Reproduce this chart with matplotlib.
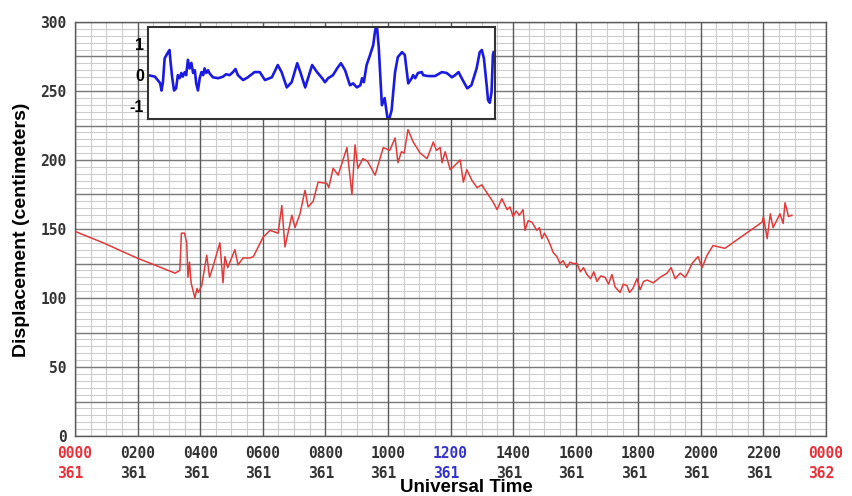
import matplotlib
matplotlib.use("Agg")
import matplotlib.pyplot as plt
import numpy as np
from matplotlib.ticker import FixedLocator, FuncFormatter

# ---- main series: time (hours*100, UT) vs displacement (cm)
time_ut = [3, 90, 198, 320, 335, 340, 350, 357, 361, 366, 371, 383, 390, 394, 405, 421, 430, 440, 463,
           473, 479, 488, 511, 521, 537, 559, 570, 601, 623, 649, 661, 671, 693, 703, 719, 735, 745,
           761, 777, 805, 811, 825, 841, 869, 874, 885, 895, 904, 920, 935, 959, 985, 1006, 1023,
           1032, 1043, 1052, 1064, 1081, 1103, 1125, 1145, 1155, 1167, 1173, 1183, 1199, 1209, 1231,
           1241, 1252, 1269, 1285, 1300, 1320, 1335, 1349, 1364, 1381, 1390, 1400, 1410, 1420, 1432,
           1438, 1448, 1460, 1476, 1484, 1492, 1500, 1508, 1518, 1528, 1540, 1550, 1560, 1572, 1582,
           1592, 1604, 1615, 1625, 1636, 1648, 1658, 1668, 1680, 1694, 1705, 1716, 1726, 1742, 1752,
           1764, 1772, 1783, 1796, 1806, 1817, 1828, 1848, 1870, 1892, 1905, 1918, 1934, 1950, 1960,
           1972, 1991, 2004, 2020, 2039, 2058, 2077, 2196, 2200, 2212, 2222, 2231, 2253, 2263, 2269,
           2275, 2280, 2291]
displacement = [148, 140, 129, 118, 120, 147, 147, 140, 115, 126, 111, 100, 107, 104, 109, 131, 115, 122,
                140, 111, 130, 122, 135, 124, 129, 129, 130, 144, 149, 147, 167, 137, 160, 151, 161, 178,
                166, 170, 184, 183, 180, 194, 189, 209, 198, 175, 211, 194, 201, 199, 189, 209, 207, 216,
                198, 206, 205, 222, 213, 205, 201, 213, 207, 209, 198, 206, 193, 195, 200, 184, 193, 185,
                180, 182, 175, 170, 164, 172, 164, 166, 159, 163, 160, 164, 149, 156, 155, 149, 151,
                143, 147, 144, 139, 133, 130, 125, 127, 122, 126, 125, 125, 119, 122, 117, 114, 119, 112,
                116, 115, 110, 117, 108, 104, 110, 109, 104, 107, 114, 106, 112, 113, 111, 115, 118, 122,
                114, 118, 115, 119, 125, 130, 122, 131, 138, 137, 136, 155, 159, 143, 161, 151, 161, 154,
                169, 164, 159, 160]

# ---- inset waveform (relative position 0-100, normalized amplitude)
inset_x = [0, 2, 3.5, 3.9, 4.3, 4.8, 5.3, 5.8, 6.2, 6.5, 7, 7.5, 8.1, 8.6, 9.1, 9.6, 10, 10.6, 11, 11.5,
           12, 12.5, 13, 13.5, 13.9, 14.4, 14.9, 15.4, 15.9, 16.3, 16.8, 17.3, 17.8, 18.7, 20.2, 21.6,
           22.5, 23.5, 24.5, 25.2, 25.9, 27.4, 28.8, 30.7, 32.2, 33.7, 35.7, 37.4, 38.5, 40, 41.4, 43,
           43.9, 45.3, 47.3, 48.7, 50.2, 51, 51.9, 53.3, 54.5, 55.6, 56.8, 58.2, 59.1, 60.2, 61.2, 61.7,
           62.2, 63, 64, 64.9, 65.4, 65.9, 66.5, 67.4, 68.2, 69.2, 70.2, 71.2, 72, 73.2, 74, 75, 76, 76.4,
           77, 77.8, 78.9, 79.3, 80.7, 82.7, 84.7, 86.1, 87.6, 88.5, 89.5, 90.4, 92, 93.2, 94.7, 95.6,
           96.2, 96.8, 97.6, 98, 98.5, 99, 99.4, 99.6]
inset_y = [0, -0.05, -0.26, -0.5, -0.23, 0.55, 0.65, 0.75, 0.82, 0.43, -0.1, -0.5, -0.43, 0, -0.1, 0.07,
           -0.05, 0.1, 0, 0.5, 0.22, 0.4, 0.07, 0.16, -0.27, -0.5, -0.1, 0.1, 0, 0.22, 0.07, 0.16, 0.05,
           -0.07, -0.1, -0.05, 0.03, 0, 0.1, 0.2, 0, -0.16, -0.07, 0.1, 0.1, -0.16, -0.07, 0.33, 0.1,
           -0.4, -0.23, 0.39, 0.1, -0.4, 0.33, 0.1, -0.1, -0.23, -0.1, 0, 0.22, 0.39, 0.16, -0.33, -0.27,
           -0.4, -0.33, -0.1, -0.23, 0.33, 0.66, 0.98, 1.41, 1.7, 0.9, -0.98, -0.75, -1.55, -1.15, 0.1,
           0.59, 0.75, 0.66, -0.27, -0.1, 0, -0.1, 0.07, 0.1, 0, -0.03, -0.03, 0.1, 0.07, -0.07, 0, 0.1,
           -0.1, -0.43, -0.33, 0.22, 0.75, 0.82, 0.55, -0.33, -0.82, -0.9, -0.56, 0.66, 0.75]

x_ticks = [0, 200, 400, 600, 800, 1000, 1200, 1400, 1600, 1800, 2000, 2200, 2400]
x_tick_labels = ["0000\n361", "0200\n361", "0400\n361", "0600\n361", "0800\n361", "1000\n361",
                 "1200\n361", "1400\n361", "1600\n361", "1800\n361", "2000\n361", "2200\n361",
                 "0000\n362"]
x_tick_colors = ["#e8303a", "#333333", "#333333", "#333333", "#333333", "#333333", "#3333cc",
                 "#333333", "#333333", "#333333", "#333333", "#333333", "#e8303a"]
y_ticks = [0, 50, 100, 150, 200, 250, 300]
inset_ticks = [-1, 0, 1]

fig = plt.figure(figsize=(8.52, 4.96), dpi=100)
ax = fig.add_axes([75 / 852, 1 - 436 / 496, 751 / 852, 414 / 496])
ax.set_xlim(0, 2400)
ax.set_ylim(0, 300)

# grid paper
ax.vlines(np.arange(0, 2401, 50), 0, 300, color="#cccccc", lw=0.8, zorder=0)
ax.hlines(np.arange(0, 301, 5), 0, 2400, color="#cccccc", lw=0.8, zorder=0)
ax.hlines(np.arange(0, 301, 25), 0, 2400, color="#7a7a7a", lw=1.0, zorder=0.5)
ax.vlines(np.arange(0, 2401, 200), 0, 300, color="#5a5a5a", lw=1.0, zorder=0.6)

ax.xaxis.set_major_locator(FixedLocator(x_ticks))
ax.yaxis.set_major_locator(FixedLocator(y_ticks))
ax.tick_params(which="both", length=0)
ax.set_xticklabels(x_tick_labels, family="DejaVu Sans Mono", fontweight="bold", fontsize=10.5,
                   linespacing=1.45, multialignment="left")
for lab, c in zip(ax.get_xticklabels(), x_tick_colors):
    lab.set_color(c)
ax.tick_params(axis="x", pad=7)
ax.yaxis.set_major_formatter(FuncFormatter(lambda v, p: f"{int(v)}"))
for lab in ax.get_yticklabels():
    lab.set_family("DejaVu Sans Mono")
    lab.set_fontweight("bold")
    lab.set_fontsize(10.5)
ax.tick_params(axis="y", pad=6, labelcolor="#333333")
for s in ax.spines.values():
    s.set_color("#5a5a5a")
    s.set_linewidth(1.0)

ax.plot(time_ut, displacement, color="#e23a3a", lw=1.1, zorder=3)

fig.text(466 / 852, 1 - 488 / 496, "Universal Time", ha="center", va="center",
         family="Liberation Sans", fontweight="bold", fontsize=13.5)
fig.text(22 / 852, 1 - 230 / 496, "Displacement (centimeters)", ha="center", va="center",
         rotation=90, family="Liberation Sans", fontweight="bold", fontsize=14)

# inset
ins = fig.add_axes([148 / 852, 1 - 119 / 496, 347 / 852, 92 / 496])
ins.set_facecolor("white")
ins.set_xlim(0, 100)
ins.set_ylim(-1.43, 1.57)
ins.plot(inset_x, inset_y, color="#1a1ae0", lw=1.9, solid_joinstyle="round")
ins.set_xticks([])
ins.set_yticks(inset_ticks)
ins.set_yticklabels(["-1", "0", "1"], family="Liberation Sans", fontweight="bold", fontsize=11.5)
ins.tick_params(axis="y", length=0, pad=3)
for s in ins.spines.values():
    s.set_color("#333333")
    s.set_linewidth(1.5)

fig.savefig("out.png", dpi=100)
